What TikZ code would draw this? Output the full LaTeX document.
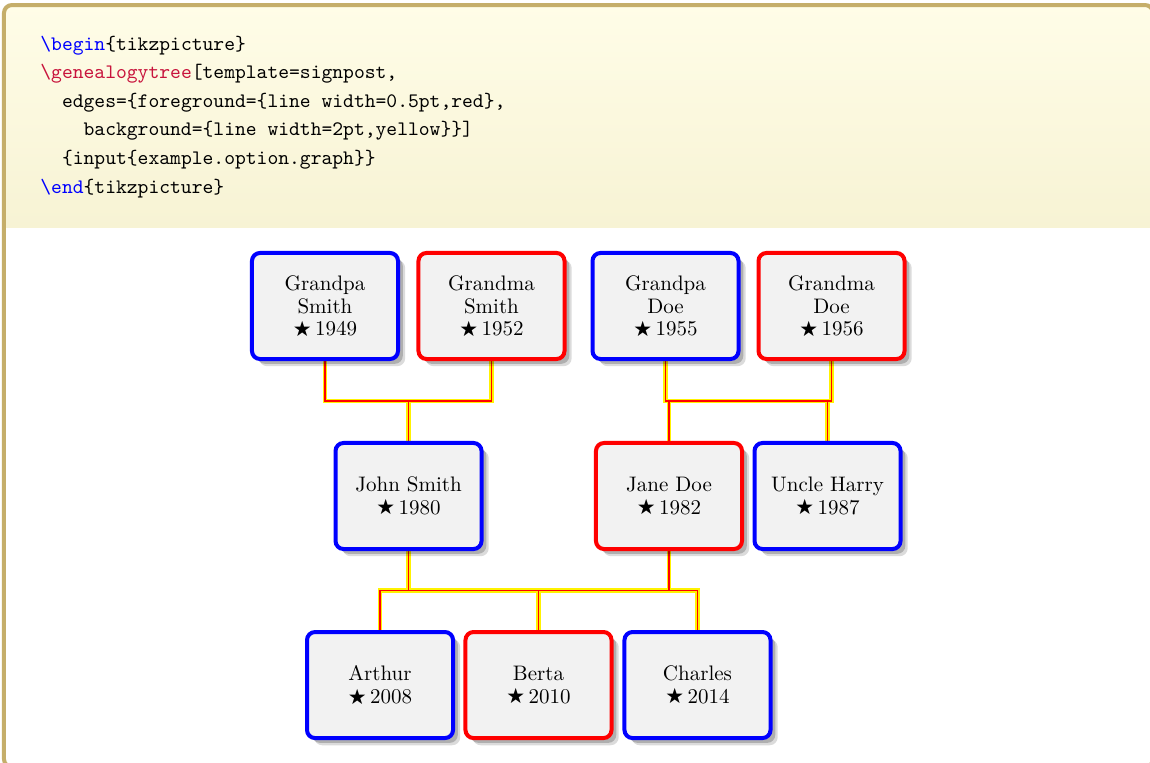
\documentclass[tikz,border=0pt]{standalone}
\usepackage{fontspec}
\newfontfamily\symfont{DejaVu Sans}
\usetikzlibrary{shadows,backgrounds,calc}
\definecolor{docframe}{HTML}{C5AE6A}
\definecolor{doctop}{HTML}{FFFDE8}
\definecolor{docbottom}{HTML}{F7F3D4}
\definecolor{docred}{HTML}{C8143C}
\newcommand{\born}[1]{\raisebox{-0.3pt}{\symfont\fontsize{10.5}{10.5}\selectfont ★}\,#1}

\tikzset{
  person/.style={rectangle, rounded corners=4pt, line width=2pt, fill=gray!10,
    minimum width=2.566cm, minimum height=1.863cm, align=center,
    font=\fontsize{10.5}{11.25}\selectfont,
    drop shadow={shadow xshift=3.6pt, shadow yshift=-3.6pt, opacity=.14, fill=black},
    drop shadow={shadow xshift=2.4pt, shadow yshift=-2.4pt, opacity=.2, fill=black}},
  male/.style={person, draw=blue},
  female/.style={person, draw=red},
  edgebg/.style={line width=2.2pt, yellow},
  edgefg/.style={line width=0.6pt, red},
}

\begin{document}
\begin{tikzpicture}
\useasboundingbox (0,0) rectangle (20.209,-13.391);

% listing box
\begin{scope}
  \clip[rounded corners=4pt] (0.070,-0.088) rectangle (20.262,-13.48);
  \shade[top color=doctop, bottom color=docbottom] (0,0) rectangle (20.3,-3.989);
\end{scope}
\draw[docframe, line width=2pt, rounded corners=4pt] (0.070,-0.088) rectangle (20.262,-13.48);

\node[anchor=base west, align=left, inner sep=0pt,
      font=\fontsize{10.3}{14.3}\selectfont\ttfamily] (code) at (0.703,-3.392)
  {{\color{blue}\textbackslash begin}\{tikzpicture\}\\
   {\color{docred}\textbackslash genealogytree}[template=signpost,\\
   \ \ edges=\{foreground=\{line width=0.5pt,red\},\\
   \ \ \ \ background=\{line width=2pt,yellow\}\}]\\
   \ \ \{input\{example.option.graph\}\}\\
   {\color{blue}\textbackslash end}\{tikzpicture\}};

% grandparents
\node[male]   (gps) at (5.711,-5.377)  {Grandpa\\Smith\\\born{1949}};
\node[female] (gms) at (8.637,-5.377)  {Grandma\\Smith\\\born{1952}};
\node[male]   (gpd) at (11.695,-5.377) {Grandpa\\Doe\\\born{1955}};
\node[female] (gmd) at (14.612,-5.377) {Grandma\\Doe\\\born{1956}};

% parents
\node[male]   (john)  at (7.179,-8.716)  {John Smith\\\born{1980}};
\node[female] (jane)  at (11.756,-8.716) {Jane Doe\\\born{1982}};
\node[male]   (harry) at (14.542,-8.716) {Uncle Harry\\\born{1987}};

% children
\node[male]   (arthur)  at (6.678,-12.038)  {Arthur\\\born{2008}};
\node[female] (berta)   at (9.463,-12.038)  {Berta\\\born{2010}};
\node[male]   (charles) at (12.257,-12.038) {Charles\\\born{2014}};

\coordinate (smithbar) at (0,-7.047);
\coordinate (doebar)   at (0,-7.047);
\coordinate (kidsbar)  at (0,-10.377);

% edges, yellow first, red on top
\begin{scope}[on background layer]
\foreach \layer in {edgebg,edgefg} {
  \draw[\layer] (gps.south) -- (gps.south |- smithbar) -- (gms.south |- smithbar) -- (gms.south);
  \draw[\layer] (john.north) -- (john.north |- smithbar);
  \draw[\layer] (gpd.south) -- (gpd.south |- doebar) -- (gmd.south |- doebar) -- (gmd.south);
  \draw[\layer] (jane.north) -- (jane.north |- doebar);
  \draw[\layer] (harry.north) -- (harry.north |- doebar);
  \draw[\layer] (john.south) -- (john.south |- kidsbar);
  \draw[\layer] (jane.south) -- (jane.south |- kidsbar);
  \draw[\layer] (arthur.north) -- (arthur.north |- kidsbar) -- (charles.north |- kidsbar) -- (charles.north);
  \draw[\layer] (berta.north) -- (berta.north |- kidsbar);
}
\end{scope}
\end{tikzpicture}
\end{document}
